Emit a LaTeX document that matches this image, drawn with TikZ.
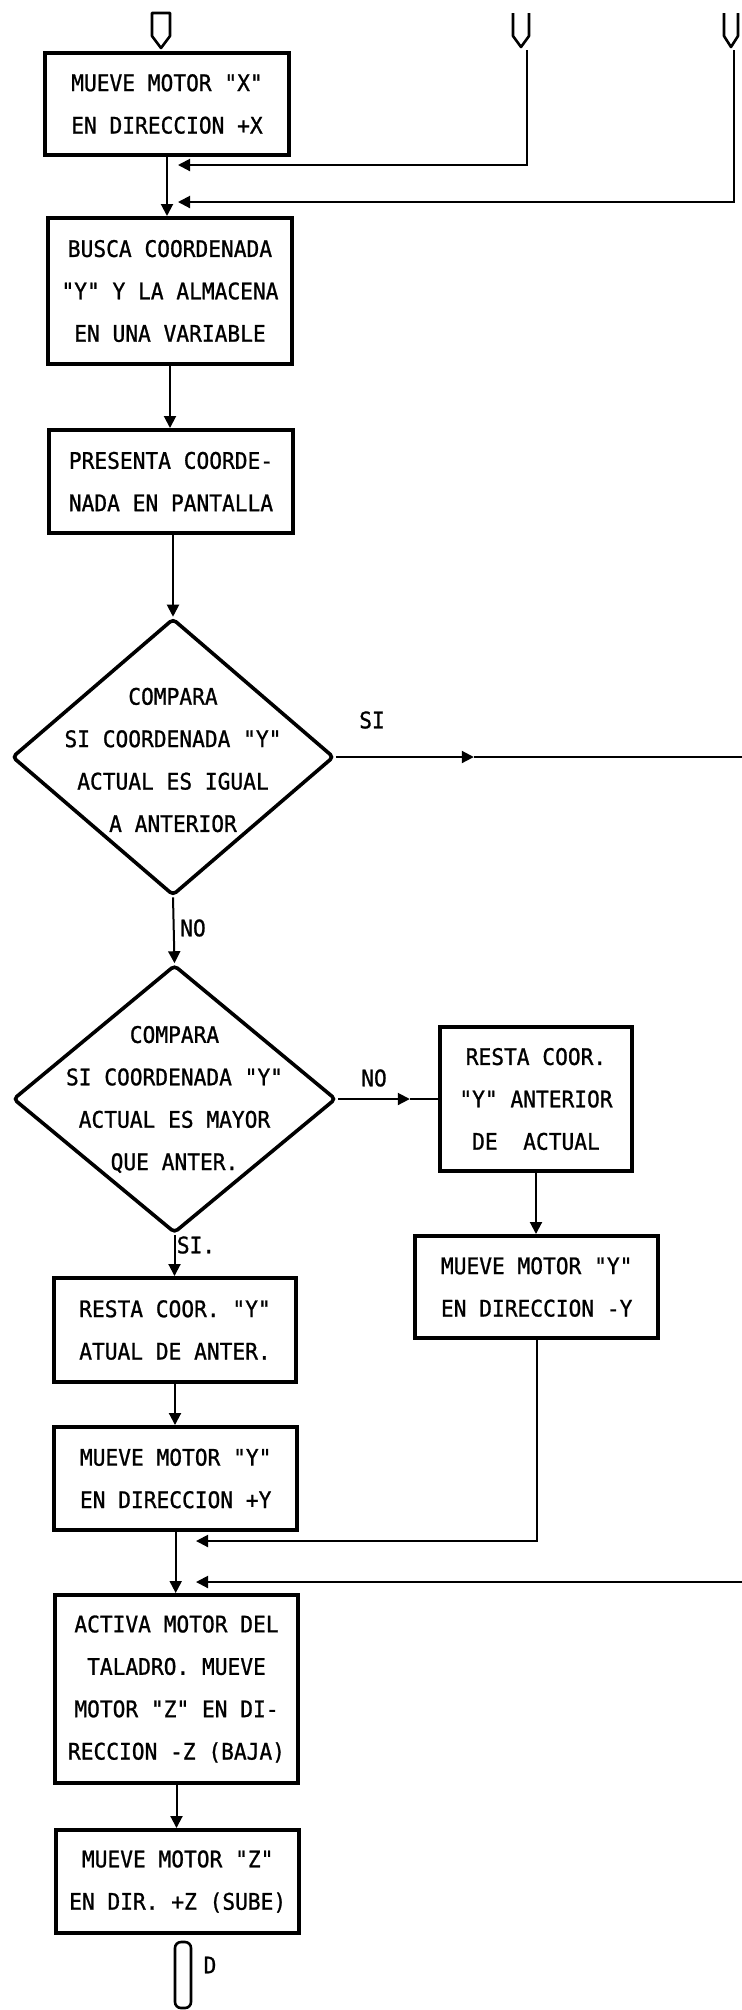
\documentclass[tikz,border=0pt]{standalone}
\usepackage{fontspec}
\newfontfamily\plotfont[FakeStretch=0.93,FakeBold=1]{DejaVu Sans Mono}
\usetikzlibrary{shapes.geometric,arrows.meta}
\begin{document}
\begin{tikzpicture}[x=0.5pt,y=-0.5pt,
  txt/.style={align=center, inner sep=0pt, font=\plotfont\fontsize{11.4}{21.2}\selectfont},
  procbox/.style={txt, draw, line width=2pt, rectangle},
  decbox/.style={draw, line width=1.8pt, diamond, inner sep=0pt, rounded corners=2pt},
  conn/.style={line width=1pt},
  arr/.style={conn, -{Triangle[length=6pt,width=6pt]}},
  offpage/.style={line width=1.3pt, line join=round},
]
\useasboundingbox (0,0) rectangle (742,2010);
\coordinate (rightedge) at (742,0);

% off-page connectors at the top
\draw[offpage] (152,13) -- (170,13) -- (170,36) -- (161,48) -- (152,36) -- cycle;
\draw[offpage] (513,13) -- (513,36) -- (521,47) -- (529,36) -- (529,13);
\draw[offpage] (724,13) -- (724,36) -- (731,47) -- (738,36) -- (738,13);
\coordinate (c2) at (527,50);
\coordinate (c3) at (734,50);

% process boxes
\node[procbox, minimum width=121.7pt, minimum height=50.85pt] (b1) at (167,104)
  {MUEVE MOTOR "X"\\EN DIRECCION +X};
\node[procbox, minimum width=121.75pt, minimum height=73pt] (b2) at (170,291)
  {BUSCA COORDENADA\\"Y" Y LA ALMACENA\\EN UNA VARIABLE};
\node[procbox, minimum width=122pt, minimum height=51.5pt] (b3) at (171,481.5)
  {PRESENTA COORDE-\\NADA EN PANTALLA};

% decisions
\node[decbox, minimum width=161pt, minimum height=138.5pt] (d1) at (173,757) {};
\node[txt] (d1t) at (173,760) {COMPARA\\SI COORDENADA "Y"\\ACTUAL ES IGUAL\\A ANTERIOR};
\node[decbox, minimum width=161.5pt, minimum height=134pt] (d2) at (174.5,1099) {};
\node[txt] (d2t) at (174.5,1099.5) {COMPARA\\SI COORDENADA "Y"\\ACTUAL ES MAYOR\\QUE ANTER.};

\node[procbox, minimum width=96pt, minimum height=72pt] (b4) at (536,1099)
  {RESTA COOR.\\"Y" ANTERIOR\\DE\ \ ACTUAL};
\node[procbox, minimum width=121.25pt, minimum height=51pt] (b5) at (536.7,1287)
  {MUEVE MOTOR "Y"\\EN DIRECCION -Y};
\node[procbox, minimum width=120.7pt, minimum height=52pt] (b6) at (175,1330)
  {RESTA COOR. "Y"\\ATUAL DE ANTER.};
\node[procbox, minimum width=121.5pt, minimum height=51.5pt] (b7) at (175.7,1478.5)
  {MUEVE MOTOR "Y"\\EN DIRECCION +Y};
\node[procbox, minimum width=121.5pt, minimum height=94pt] (b8) at (176.5,1689)
  {ACTIVA MOTOR DEL\\TALADRO. MUEVE\\MOTOR "Z" EN DI-\\RECCION -Z (BAJA)};
\node[procbox, minimum width=121.5pt, minimum height=51.5pt] (b9) at (177.7,1881.5)
  {MUEVE MOTOR "Z"\\EN DIR. +Z (SUBE)};

% bottom off-page connector
\node[draw, line width=1.3pt, rounded corners=3pt, minimum width=8pt, minimum height=33pt, inner sep=0pt] (endc) at (183,1975) {};
\node[txt] (dlab) at (210,1965) {D};

% labels
\node[txt] (si1) at (372,720) {SI};
\node[txt] (no1) at (193,928) {NO};
\node[txt] (no2) at (374,1078) {NO};
\node[txt] (si2) at (196,1245) {SI.};

% junction coordinates
\coordinate (j0a) at (178,165);
\coordinate (j0b) at (178,202);
\coordinate (j1) at (196,1541);
\coordinate (j2) at (196,1582);

% connectors
\draw[arr] (b1.south) -- (b1.south |- b2.north);
\draw[arr] (c2) |- (j0a);
\draw[arr] (c3) |- (j0b);
\draw[arr] (b2.south) -- (b2.south |- b3.north);
\draw[arr] (d1.north |- b3.south) -- (d1.north);
\draw[arr] (d1.south) -- (d2.north);
\draw[arr] (d1.east) -- ++(138,0) coordinate (sia);
\draw[conn] (sia) -- (d1.east -| rightedge);
\draw[arr] (d2.east) -- ++(72,0) coordinate (noa);
\draw[conn] (noa) -- (b4.west);
\draw[arr] (b4.south) -- (b4.south |- b5.north);
\draw[arr] (b5.south) |- (j1);
\draw[arr] (d2.south) -- (d2.south |- b6.north);
\draw[arr] (b6.south) -- (b6.south |- b7.north);
\draw[arr] (b7.south) -- (b7.south |- b8.north);
\draw[arr] (rightedge |- j2) -- (j2);
\draw[arr] (b8.south) -- (b8.south |- b9.north);
\end{tikzpicture}
\end{document}
